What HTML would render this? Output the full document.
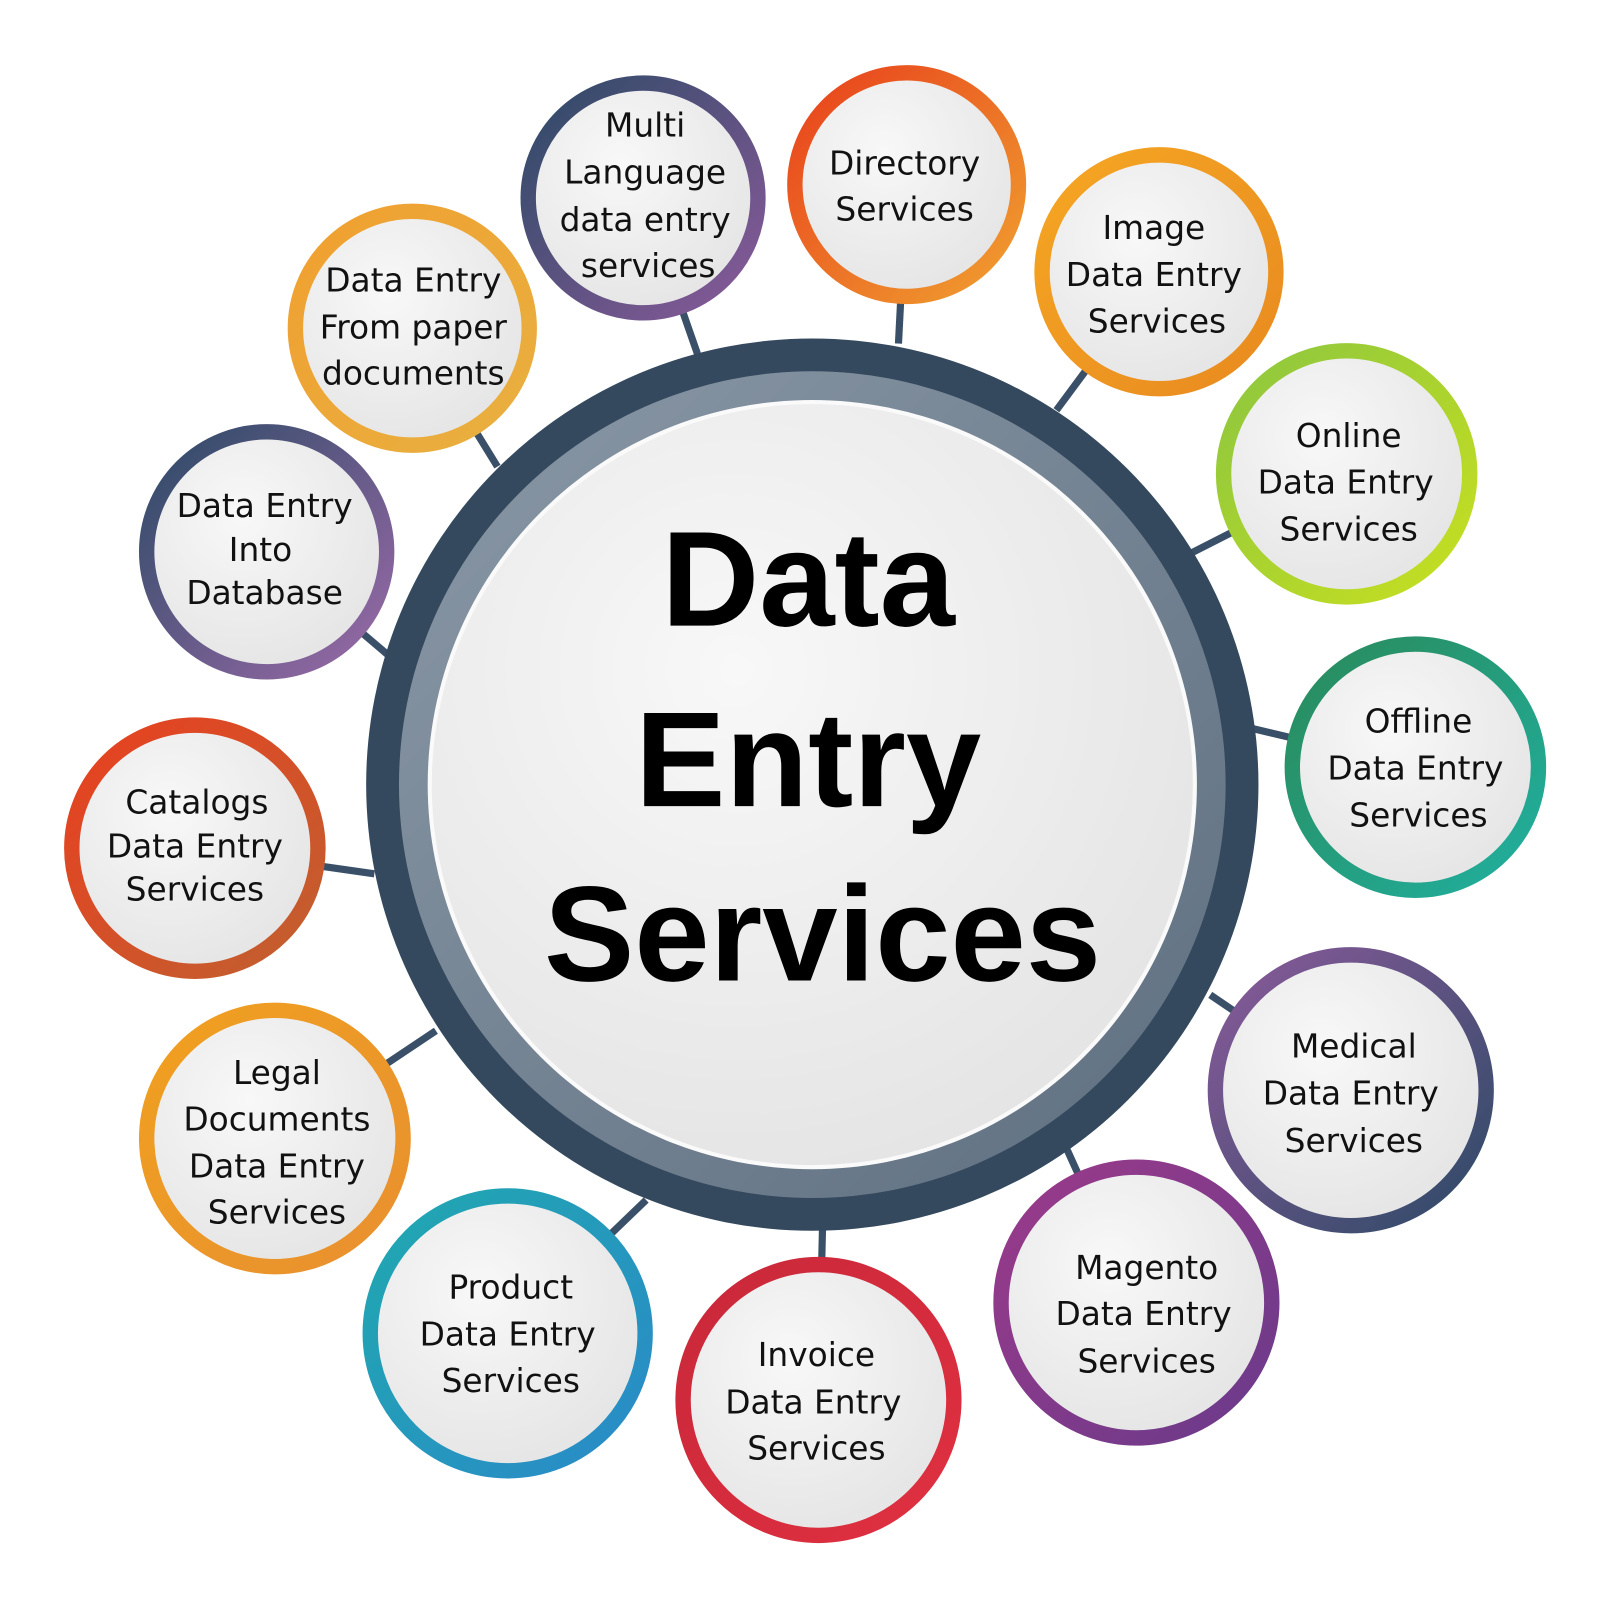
<!DOCTYPE html>
<html><head><meta charset="utf-8"><style>
html,body{margin:0;padding:0;background:#fff;}
svg{display:block}
text{font-family:"DejaVu Sans","Liberation Sans",sans-serif;fill:#111;text-anchor:middle}
.s{font-size:32px}
.m{font-size:132px;font-weight:bold;font-family:"Liberation Sans",sans-serif;fill:#000}
</style></head><body>
<svg width="1600" height="1600" viewBox="0 0 1560 1560">
<defs>
<radialGradient id="fill" cx="0.4" cy="0.35" r="0.7"><stop offset="0" stop-color="#f8f8f8"/><stop offset="1" stop-color="#e4e4e4"/></radialGradient>
<linearGradient id="gray" x1="0" y1="0" x2="1" y2="1"><stop offset="0" stop-color="#8a98a6"/><stop offset="1" stop-color="#5e6f80"/></linearGradient>
<linearGradient id="g1" x1="0" y1="0" x2="1" y2="1"><stop offset="0" stop-color="#2d4a66"/><stop offset="1" stop-color="#8a5a9a"/></linearGradient>
<linearGradient id="g2" x1="0" y1="0" x2="1" y2="1"><stop offset="0" stop-color="#e8401c"/><stop offset="1" stop-color="#f0a030"/></linearGradient>
<linearGradient id="g3" x1="0" y1="0" x2="1" y2="1"><stop offset="0" stop-color="#f5a623"/><stop offset="1" stop-color="#e88a20"/></linearGradient>
<linearGradient id="g4" x1="0" y1="0" x2="1" y2="1"><stop offset="0" stop-color="#8cc63f"/><stop offset="1" stop-color="#c8e020"/></linearGradient>
<linearGradient id="g5" x1="0" y1="0" x2="1" y2="1"><stop offset="0" stop-color="#2a8a5a"/><stop offset="1" stop-color="#20b0a0"/></linearGradient>
<linearGradient id="g6" x1="0" y1="0" x2="1" y2="1"><stop offset="0" stop-color="#8a5a9a"/><stop offset="1" stop-color="#2d4a66"/></linearGradient>
<linearGradient id="g7" x1="0" y1="0" x2="1" y2="1"><stop offset="0" stop-color="#9b3a8a"/><stop offset="1" stop-color="#6a3a8a"/></linearGradient>
<linearGradient id="g8" x1="0" y1="0" x2="1" y2="1"><stop offset="0" stop-color="#c8283a"/><stop offset="1" stop-color="#e03040"/></linearGradient>
<linearGradient id="g9" x1="0" y1="0" x2="1" y2="1"><stop offset="0" stop-color="#20a8b0"/><stop offset="1" stop-color="#2a8ac8"/></linearGradient>
<linearGradient id="g10" x1="0" y1="0" x2="1" y2="1"><stop offset="0" stop-color="#f0a020"/><stop offset="1" stop-color="#e89030"/></linearGradient>
<linearGradient id="g11" x1="0" y1="0" x2="1" y2="1"><stop offset="0" stop-color="#e84020"/><stop offset="1" stop-color="#c06030"/></linearGradient>
<linearGradient id="g12" x1="0" y1="0" x2="1" y2="1"><stop offset="0" stop-color="#2d4a66"/><stop offset="1" stop-color="#9a6aa8"/></linearGradient>
<linearGradient id="g13" x1="0" y1="0" x2="1" y2="1"><stop offset="0" stop-color="#f0a030"/><stop offset="1" stop-color="#e8b040"/></linearGradient>
</defs>
<g stroke="#3a5068" stroke-width="7">
<line x1="627" y1="193" x2="680" y2="345"/>
<line x1="884" y1="180" x2="876" y2="335"/>
<line x1="1130" y1="265" x2="1030" y2="400"/>
<line x1="1313" y1="462" x2="1160" y2="540"/>
<line x1="1380" y1="748" x2="1220" y2="710"/>
<line x1="1317" y1="1063" x2="1180" y2="970"/>
<line x1="1108" y1="1270" x2="1040" y2="1120"/>
<line x1="798" y1="1365" x2="802" y2="1195"/>
<line x1="495" y1="1300" x2="630" y2="1170"/>
<line x1="268" y1="1110" x2="425" y2="1005"/>
<line x1="190" y1="827" x2="365" y2="852"/>
<line x1="260" y1="538" x2="380" y2="640"/>
<line x1="402" y1="320" x2="485" y2="455"/>
</g>
<circle cx="792" cy="765" r="435" fill="#34495e"/>
<circle cx="792" cy="765" r="403" fill="url(#gray)"/>
<circle cx="792" cy="765" r="375" fill="#fafafa"/>
<circle cx="792" cy="765" r="371" fill="url(#fill)"/>
<text class="m" x="788" y="610">Data</text>
<text class="m" x="788" y="786">Entry</text>
<text class="m" x="802" y="956">Services</text>
<g stroke-width="15" fill="url(#fill)">
<circle cx="627" cy="193" r="112" stroke="url(#g1)"/>
<circle cx="884" cy="180" r="109" stroke="url(#g2)"/>
<circle cx="1130" cy="265" r="114" stroke="url(#g3)"/>
<circle cx="1313" cy="462" r="120" stroke="url(#g4)"/>
<circle cx="1380" cy="748" r="120" stroke="url(#g5)"/>
<circle cx="1317" cy="1063" r="132" stroke="url(#g6)"/>
<circle cx="1108" cy="1270" r="132" stroke="url(#g7)"/>
<circle cx="798" cy="1365" r="132" stroke="url(#g8)"/>
<circle cx="495" cy="1300" r="134" stroke="url(#g9)"/>
<circle cx="268" cy="1110" r="125" stroke="url(#g10)"/>
<circle cx="190" cy="827" r="120" stroke="url(#g11)"/>
<circle cx="260" cy="538" r="117" stroke="url(#g12)"/>
<circle cx="402" cy="320" r="114" stroke="url(#g13)"/>
</g>
<g class="s">
<text class="s" x="629" y="133">Multi</text><text class="s" x="629" y="179">Language</text><text class="s" x="629" y="225">data entry</text><text class="s" x="632" y="270">services</text>
<text class="s" x="882" y="170">Directory</text><text class="s" x="882" y="215">Services</text>
<text class="s" x="1125" y="233">Image</text><text class="s" x="1125" y="279">Data Entry</text><text class="s" x="1128" y="324">Services</text>
<text class="s" x="1315" y="436">Online</text><text class="s" x="1312" y="481">Data Entry</text><text class="s" x="1315" y="527">Services</text>
<text class="s" x="1383" y="714">Offline</text><text class="s" x="1380" y="760">Data Entry</text><text class="s" x="1383" y="806">Services</text>
<text class="s" x="1320" y="1031">Medical</text><text class="s" x="1317" y="1077">Data Entry</text><text class="s" x="1320" y="1123">Services</text>
<text class="s" x="1118" y="1247">Magento</text><text class="s" x="1115" y="1292">Data Entry</text><text class="s" x="1118" y="1338">Services</text>
<text class="s" x="796" y="1332">Invoice</text><text class="s" x="793" y="1378">Data Entry</text><text class="s" x="796" y="1423">Services</text>
<text class="s" x="498" y="1266">Product</text><text class="s" x="495" y="1312">Data Entry</text><text class="s" x="498" y="1357">Services</text>
<text class="s" x="270" y="1057">Legal</text><text class="s" x="270" y="1102">Documents</text><text class="s" x="270" y="1148">Data Entry</text><text class="s" x="270" y="1193">Services</text>
<text class="s" x="192" y="793">Catalogs</text><text class="s" x="190" y="836">Data Entry</text><text class="s" x="190" y="878">Services</text>
<text class="s" x="258" y="504">Data Entry</text><text class="s" x="254" y="547">Into</text><text class="s" x="258" y="589">Database</text>
<text class="s" x="403" y="284">Data Entry</text><text class="s" x="403" y="330">From paper</text><text class="s" x="403" y="375">documents</text>
</g>
</svg>
</body></html>
